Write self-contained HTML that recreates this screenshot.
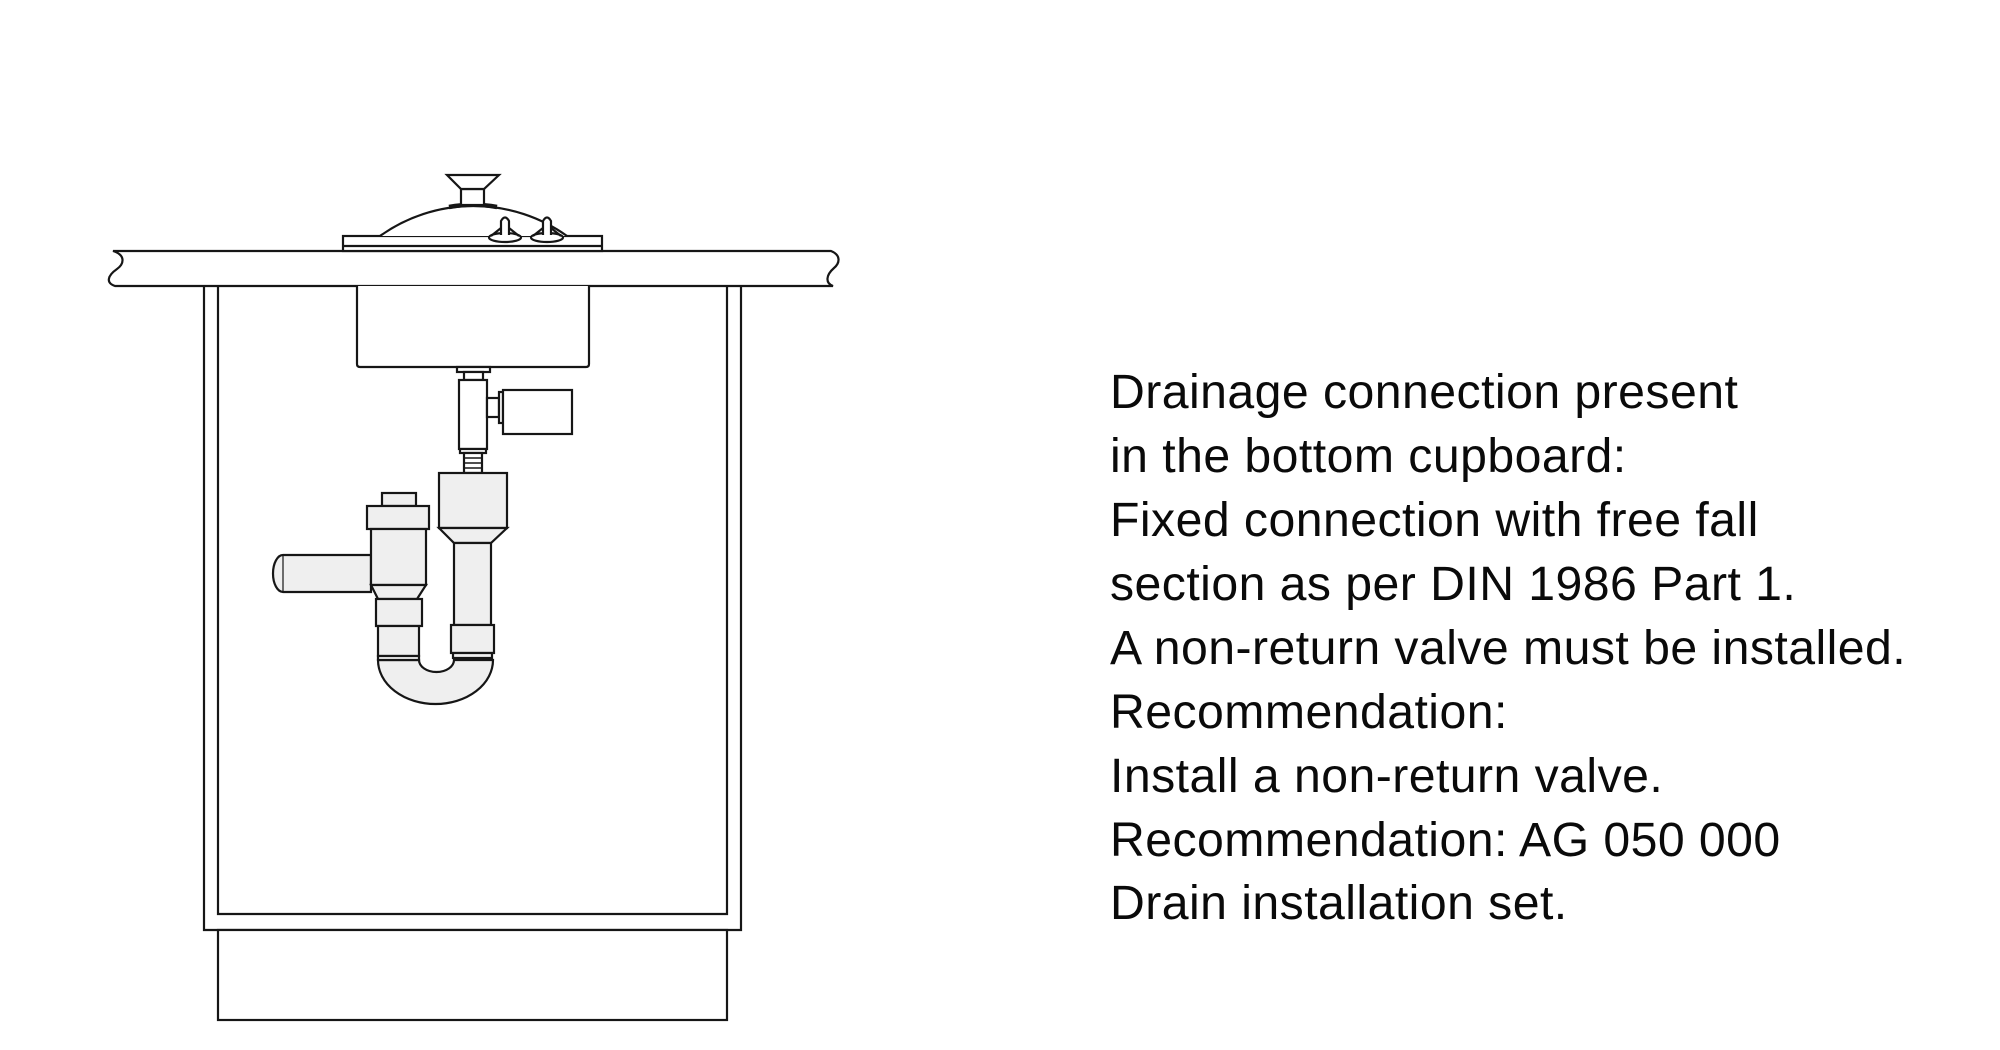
<!DOCTYPE html>
<html>
<head>
<meta charset="utf-8">
<style>
  html, body { margin: 0; padding: 0; background: #ffffff; }
  body { width: 2000px; height: 1050px; overflow: hidden; }
  svg { display: block; }
  .t { font-family: "Liberation Sans", Arial, sans-serif; font-size: 48.2px; fill: #0a0a0a; letter-spacing: 0.45px; }
</style>
</head>
<body>
<svg width="2000" height="1050" viewBox="0 0 2000 1050" xmlns="http://www.w3.org/2000/svg">
  <g fill="none" stroke="#161616" stroke-width="2.2" stroke-linejoin="miter">
    <!-- Cabinet outer -->
    <path d="M204,286 L204,930 L741,930 L741,286" fill="#fff"/>
    <!-- Cabinet inner -->
    <path d="M218,286 L218,914 L727,914 L727,286"/>
    <!-- Plinth -->
    <rect x="218" y="930" width="509" height="90" fill="#fff"/>

    <!-- Countertop -->
    <path d="M113,251 L831,251 C841,255 840,263 834,268 C826,275 825,283 833,286 L115,286 C106,283 107,276 117,269 C124,264 126,255 113,251 Z" fill="#fff"/>

    <!-- Hob plate -->
    <rect x="343" y="236" width="259" height="15" fill="#fff"/>
    <line x1="343" y1="246" x2="602" y2="246"/>

    <!-- Dome -->
    <path d="M380,236 A160.7,160.7 0 0 1 567,236" fill="#fff"/>
    <path d="M449,207 Q473,202.5 497,207" stroke-width="4.5"/>
    <!-- Lid knob -->
    <rect x="461" y="189" width="23" height="16" fill="#fff"/>
    <path d="M447,175 L499,175 L484,189 L461,189 Z" fill="#fff"/>

    <!-- Small wing knobs -->
    <g fill="#fff">
      <ellipse cx="505" cy="237.5" rx="16" ry="4.5"/>
      <path d="M501,235 L501,221 Q505,214 509,221 L509,235"/>
      <path d="M501,228 L491,236 M509,228 L519,236"/>
      <ellipse cx="547" cy="237.5" rx="16" ry="4.5"/>
      <path d="M543,235 L543,221 Q547,214 551,221 L551,235"/>
      <path d="M543,228 L533,236 M551,228 L561,236"/>
    </g>

    <!-- Sink bowl -->
    <path d="M357,286 L357,364 Q357,367 360,367 L586,367 Q589,367 589,364 L589,286" fill="#fff"/>

    <!-- Valve assembly -->
    <rect x="457" y="367" width="33" height="5" fill="#fff"/>
    <rect x="464" y="372" width="19" height="8" fill="#fff"/>
    <rect x="459" y="380" width="28" height="69" fill="#fff"/>
    <rect x="487" y="398" width="12" height="19" fill="#fff"/>
    <rect x="499" y="392" width="4" height="31" fill="#fff"/>
    <rect x="503" y="390" width="69" height="44" fill="#fff"/>
    <rect x="460" y="449" width="26" height="4" fill="#fff"/>
    <rect x="464" y="453" width="18" height="20" fill="#fff"/>
    <line x1="464" y1="458" x2="482" y2="458" stroke-width="1.4"/>
    <line x1="464" y1="463" x2="482" y2="463" stroke-width="1.4"/>
    <line x1="464" y1="468" x2="482" y2="468" stroke-width="1.4"/>

    <!-- Trap (gray parts) -->
    <g fill="#efefef">
      <!-- right side -->
      <rect x="439" y="473" width="68" height="55"/>
      <path d="M439,528 L507,528 L491,543 L454,543 Z"/>
      <rect x="454" y="543" width="37" height="82"/>
      <rect x="451" y="625" width="43" height="28"/>
      <rect x="453" y="653" width="39" height="5"/>
      <!-- U-bend -->
      <path d="M378,660 A57.5,44 0 0 0 493,660 L454,660 A17.5,12 0 0 1 419,660 Z"/>
      <!-- horizontal side pipe -->
      <path d="M283,555 L371,555 L371,592 L283,592 A10,18.5 0 0 1 283,555 Z"/>
      <line x1="283" y1="555" x2="283" y2="592" stroke-width="1.2"/>
      <!-- left side -->
      <rect x="382" y="493" width="34" height="13"/>
      <rect x="367" y="506" width="62" height="23"/>
      <rect x="371" y="529" width="55" height="56"/>
      <path d="M371,585 L426,585 L417,599 L378,599 Z"/>
      <rect x="376" y="599" width="46" height="27"/>
      <rect x="378" y="626" width="41" height="30"/>
      <rect x="378" y="656" width="41" height="4"/>
    </g>
  </g>

  <!-- Text -->
  <g class="t">
    <text x="1110" y="408">Drainage connection present</text>
    <text x="1110" y="472">in the bottom cupboard:</text>
    <text x="1110" y="536">Fixed connection with free fall</text>
    <text x="1110" y="600">section as per DIN 1986 Part 1.</text>
    <text x="1110" y="664">A non-return valve must be installed.</text>
    <text x="1110" y="728">Recommendation:</text>
    <text x="1110" y="792">Install a non-return valve.</text>
    <text x="1110" y="856">Recommendation: AG 050 000</text>
    <text x="1110" y="919">Drain installation set.</text>
  </g>
</svg>
</body>
</html>
